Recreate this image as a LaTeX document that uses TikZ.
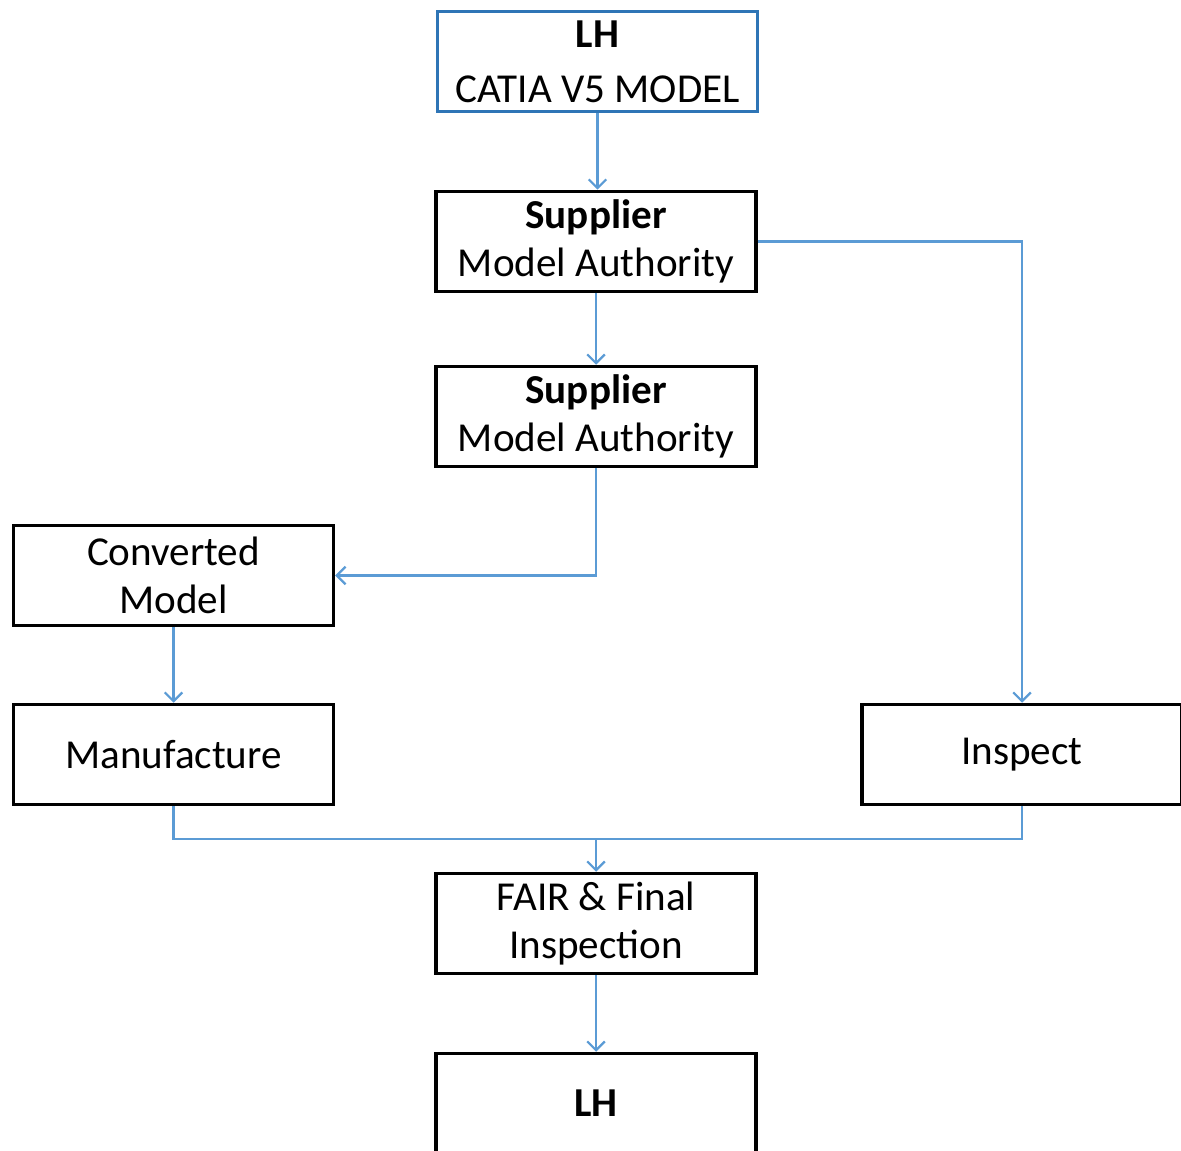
\documentclass[tikz,border=0pt]{standalone}
\usepackage{fontspec}
\setmainfont{Carlito}
\usetikzlibrary{arrows.meta}
\definecolor{linkblue}{RGB}{91,155,213}
\definecolor{frameblue}{RGB}{46,117,182}
\begin{document}
\begin{tikzpicture}[x=0.02cm,y=-0.02cm,
    box/.style={draw=black,line width=2pt,minimum width=6.4cm,minimum height=2cm,align=center,inner sep=0pt,font=\fontsize{23.4}{27.5}\selectfont},
    topbox/.style={box,draw=frameblue},
    link/.style={draw=linkblue,line width=1.3pt},
    flow/.style={link,-{Straight Barb[length=5pt,width=10pt]}}]
    \useasboundingbox (0,0) rectangle (1181,1151);

    \node[topbox] (lhstart) at (597.5,61.5) {\textbf{LH}\\[4pt]CATIA V5 MODEL};
    \node[box] (supa) at (596,241.5) {\textbf{Supplier}\\Model Authority};
    \node[box] (supb) at (596,416.5) {\textbf{Supplier}\\Model Authority};
    \node[box] (conv) at (173.5,575.5) {Converted\\Model};
    \node[box] (manu) at (173.5,754.5) {Manufacture};
    \node[box] (insp) at (1022,754.5) {Inspect};
    \node[box] (fair) at (596,923.5) {FAIR \& Final\\Inspection};
    \node[box] (lhend) at (596,1103.5) {\textbf{LH}};
    \coordinate (join) at (596,839);

    \draw[flow] (lhstart.south) -- (lhstart.south |- supa.north);
    \draw[flow] (supa) -- (supb);
    \draw[flow] (supa.east) -| (insp.north);
    \draw[flow] (supb.south) |- (conv.east);
    \draw[flow] (conv) -- (manu);
    \draw[link] (manu.south) |- (join) -| (insp.south);
    \draw[flow] (join) -- (fair);
    \draw[flow] (fair) -- (lhend);
  \end{tikzpicture}
\end{document}
